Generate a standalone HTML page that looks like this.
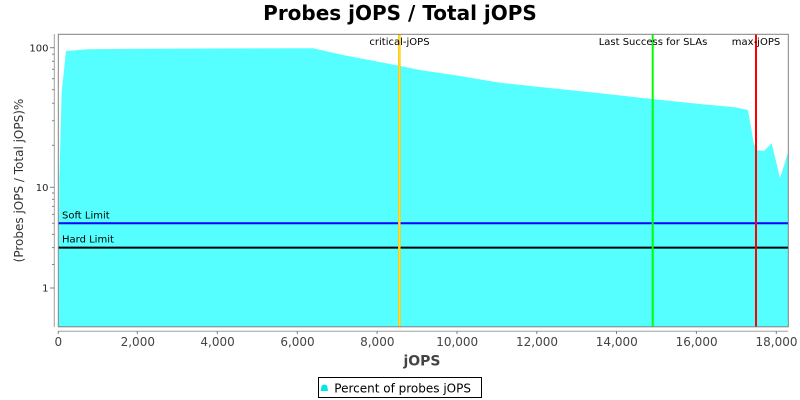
<!DOCTYPE html>
<html><head><meta charset="utf-8"><style>
html,body{margin:0;padding:0;background:#fff;}
svg{display:block;}
text{font-family:"DejaVu Sans","Liberation Sans",sans-serif;}
</style></head><body>
<svg width="800" height="400" viewBox="0 0 800 400" xmlns="http://www.w3.org/2000/svg">
<rect x="0" y="0" width="800" height="400" fill="#fff"/>
<!-- title -->
<text x="400" y="20" font-size="20" font-weight="bold" text-anchor="middle" fill="#000">Probes jOPS / Total jOPS</text>

<!-- plot background -->
<rect x="58" y="34" width="730.3" height="293" fill="#fff"/>

<!-- area -->
<polygon fill="#55ffff" points="58.5,327 59.3,180 61.7,92 66,51 88,49.3 150,48.7 250,48.4 313,48.3 343,55 399,65.7 420,70 460,76 500,82.7 540,87 600,93.3 652,99 700,104 735,107.3 748,110 753.7,143 757,150 764,151 771.7,143.3 780,178.3 788.3,151.7 788.3,327"/>

<!-- horizontal limit lines -->
<line x1="58" y1="223.3" x2="788.3" y2="223.3" stroke="#0000ff" stroke-width="2"/>
<line x1="58" y1="247.6" x2="788.3" y2="247.6" stroke="#000" stroke-width="2"/>
<text x="62" y="218.3" font-size="10" fill="#000">Soft Limit</text>
<text x="62" y="242.3" font-size="10" fill="#000">Hard Limit</text>

<!-- vertical markers -->
<line x1="399.3" y1="34" x2="399.3" y2="327" stroke="#ffc800" stroke-width="2.6"/>
<line x1="399.3" y1="34" x2="399.3" y2="327" stroke="#ffe060" stroke-width="0.8"/>
<line x1="652.7" y1="34" x2="652.7" y2="327" stroke="#00ff00" stroke-width="2"/>
<line x1="756" y1="34" x2="756" y2="327" stroke="#ff0000" stroke-width="2"/>
<text x="399.5" y="45" font-size="10" text-anchor="middle" fill="#000">critical-jOPS</text>
<text x="653" y="45" font-size="10" text-anchor="middle" fill="#000">Last Success for SLAs</text>
<text x="756" y="45" font-size="10" text-anchor="middle" fill="#000">max-jOPS</text>

<!-- plot border -->
<rect x="58.3" y="34.3" width="730" height="292.5" fill="none" stroke="#808080" stroke-width="1"/>

<!-- y axis -->
<line x1="54.3" y1="34" x2="54.3" y2="327" stroke="#a0a0a0" stroke-width="1"/>
<g stroke="#808080" stroke-width="1">
<line x1="50" y1="47.7" x2="54.3" y2="47.7"/>
<line x1="50" y1="187.3" x2="54.3" y2="187.3"/>
<line x1="50" y1="288" x2="54.3" y2="288"/>
<line x1="52" y1="54.2" x2="54.3" y2="54.2"/>
<line x1="52" y1="61.3" x2="54.3" y2="61.3"/>
<line x1="52" y1="69.3" x2="54.3" y2="69.3"/>
<line x1="52" y1="78.7" x2="54.3" y2="78.7"/>
<line x1="52" y1="89.7" x2="54.3" y2="89.7"/>
<line x1="52" y1="103.2" x2="54.3" y2="103.2"/>
<line x1="52" y1="120.7" x2="54.3" y2="120.7"/>
<line x1="52" y1="145.3" x2="54.3" y2="145.3"/>
<line x1="52" y1="193" x2="54.3" y2="193"/>
<line x1="52" y1="199.3" x2="54.3" y2="199.3"/>
<line x1="52" y1="206.4" x2="54.3" y2="206.4"/>
<line x1="52" y1="214.4" x2="54.3" y2="214.4"/>
<line x1="52" y1="223.3" x2="54.3" y2="223.3"/>
<line x1="52" y1="234.4" x2="54.3" y2="234.4"/>
<line x1="52" y1="247.6" x2="54.3" y2="247.6"/>
<line x1="52" y1="264.5" x2="54.3" y2="264.5"/>
</g>
<g font-size="10" fill="#222" text-anchor="end">
<text x="48.5" y="51.3">100</text>
<text x="48.5" y="190.9">10</text>
<text x="48.5" y="291.6">1</text>
</g>
<text transform="translate(23,180.5) rotate(-90)" font-size="12" text-anchor="middle" fill="#333">(Probes jOPS / Total jOPS)%</text>

<!-- x axis -->
<line x1="58" y1="331.3" x2="788.3" y2="331.3" stroke="#a0a0a0" stroke-width="1"/>
<g stroke="#808080" stroke-width="1">
<line x1="58.3" y1="331" x2="58.3" y2="334"/>
<line x1="137.3" y1="331" x2="137.3" y2="334"/>
<line x1="217.3" y1="331" x2="217.3" y2="334"/>
<line x1="297.3" y1="331" x2="297.3" y2="334"/>
<line x1="377.1" y1="331" x2="377.1" y2="334"/>
<line x1="457" y1="331" x2="457" y2="334"/>
<line x1="536.8" y1="331" x2="536.8" y2="334"/>
<line x1="616.5" y1="331" x2="616.5" y2="334"/>
<line x1="696.4" y1="331" x2="696.4" y2="334"/>
<line x1="776.3" y1="331" x2="776.3" y2="334"/>
</g>
<g font-size="12" fill="#444" text-anchor="middle">
<text x="58.3" y="346">0</text>
<text x="137.8" y="346">2,000</text>
<text x="217.6" y="346">4,000</text>
<text x="297.5" y="346">6,000</text>
<text x="377.3" y="346">8,000</text>
<text x="457.2" y="346">10,000</text>
<text x="537" y="346">12,000</text>
<text x="616.8" y="346">14,000</text>
<text x="696.6" y="346">16,000</text>
<text x="776.5" y="346">18,000</text>
</g>
<text x="422" y="365.5" font-size="14" font-weight="bold" text-anchor="middle" fill="#444">jOPS</text>

<!-- legend -->
<rect x="318.5" y="377.5" width="163" height="20" fill="#fff" stroke="#000" stroke-width="1"/>
<path d="M320.7,391 L321.5,386 Q324.3,383 327.2,386 L328,391 Z" fill="#00e5e5"/>
<text x="334.3" y="392.5" font-size="12" fill="#000">Percent of probes jOPS</text>
</svg>
</body></html>
